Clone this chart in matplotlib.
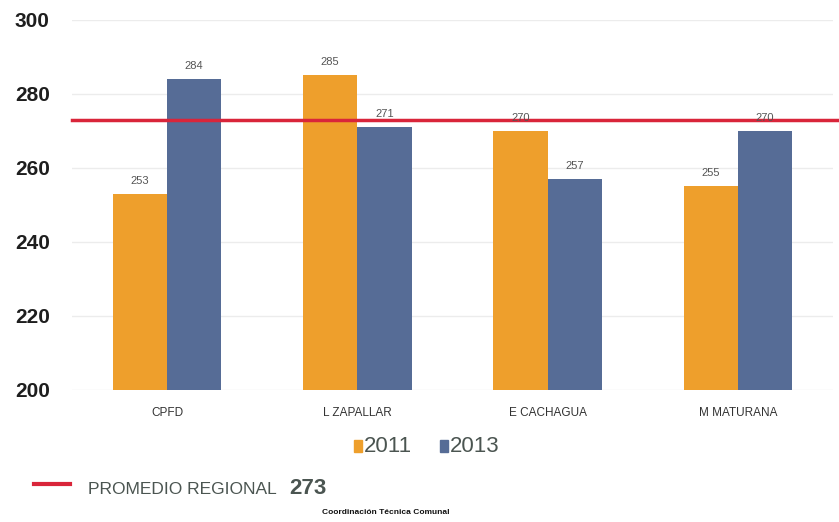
import numpy as np
import matplotlib.pyplot as plt
from matplotlib.patches import Rectangle

categories = ["CPFD", "L ZAPALLAR", "E CACHAGUA", "M MATURANA"]
vals_2011 = [253, 285, 270, 255]
vals_2013 = [284, 271, 257, 270]
series_names = ["2011", "2013"]
promedio = 273
yticks = [200, 220, 240, 260, 280, 300]

orange = "#EE9F2C"
blue = "#566C96"
red = "#D9253A"
txt = "#4B5551"
sans = ["Liberation Sans", "DejaVu Sans"]

fig = plt.figure(figsize=(8.39, 5.22), dpi=100)
ax = fig.add_axes([0.0858, 0.253, 0.907, 0.709])

x = np.arange(len(categories))
w = 0.285
b1 = ax.bar(x - w / 2, vals_2011, w, color=orange, zorder=2)
b2 = ax.bar(x + w / 2, vals_2013, w, color=blue, zorder=2)

for bars in (b1, b2):
    for r in bars:
        ax.text(r.get_x() + r.get_width() / 2, r.get_height() + 2.2, str(int(r.get_height())),
                ha="center", va="bottom", fontsize=8, color="#555555", zorder=4,
                family=sans)

ax.axhline(promedio, xmin=0, xmax=1.01, color=red, lw=2.5, zorder=3, clip_on=False)

ax.set_ylim(200, 300)
ax.set_xlim(-0.5, 3.5)
ax.set_yticks(yticks)
ax.set_yticklabels([str(t) for t in yticks], fontsize=15, fontweight="bold",
                   color="#1e1e1e", family=sans)
ax.set_xticks(x)
ax.set_xticklabels(categories, fontsize=8.5, color="#333333", family=sans)
ax.tick_params(length=0, axis="y", pad=16)
ax.tick_params(length=0, axis="x", pad=12)
ax.grid(axis="y", color="#ececec", lw=1, zorder=0)
for s in ax.spines.values():
    s.set_visible(False)

# legend
fig.patches.append(Rectangle((354 / 839, 1 - 452 / 522), 8 / 839, 12 / 522,
                             transform=fig.transFigure, color=orange))
fig.text(364 / 839, 1 - 446 / 522, series_names[0], fontsize=16, color=txt,
         va="center", ha="left", family=sans)
fig.patches.append(Rectangle((440 / 839, 1 - 452 / 522), 8 / 839, 12 / 522,
                             transform=fig.transFigure, color=blue))
fig.text(450 / 839, 1 - 446 / 522, series_names[1], fontsize=16, color=txt,
         va="center", ha="left", family=sans)

# promedio label
fig.lines.append(plt.Line2D([34 / 839, 70 / 839], [1 - 484 / 522, 1 - 484 / 522],
                            transform=fig.transFigure, color=red, lw=3))
fig.text(88 / 839, 1 - 489 / 522, "PROMEDIO REGIONAL", fontsize=12.5, color=txt,
         va="center", ha="left", family=sans)
fig.text(289 / 839, 1 - 488 / 522, str(promedio), fontsize=16, fontweight="bold",
         color=txt, va="center", ha="left", family=sans)

fig.text(386 / 839, 1 - 512 / 522, "Coordinación Técnica Comunal", fontsize=6,
         fontweight="bold", color="#111111", ha="center", va="center", family=sans)

fig.savefig("out.png", dpi=100)
